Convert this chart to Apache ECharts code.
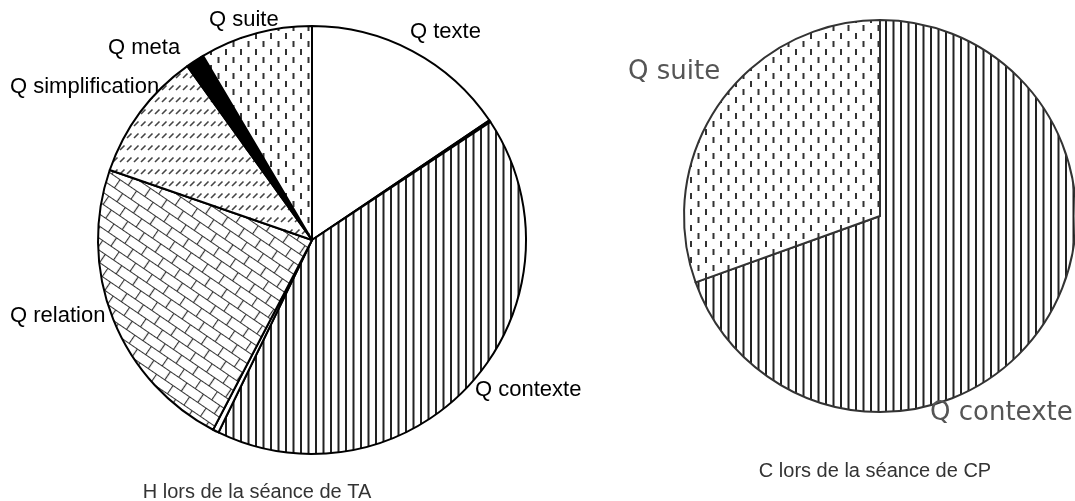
<!DOCTYPE html>
<html>
<head>
<meta charset="utf-8">
<script src="https://cdn.jsdelivr.net/npm/echarts@6/dist/echarts.min.js"></script>
<style>
  html, body { margin: 0; padding: 0; background: #fff; }
  #chart { width: 1075px; height: 501px; }
</style>
</head>
<body>
<div id="chart"></div>
<script>
// Question types during the TA session (unnamed entries are thin separators)
const taCategories = ['Q texte', '', 'Q contexte', '', 'Q relation', 'Q simplification', 'Q meta', '', 'Q suite'];
const taValues = [15.55, 0.15, 41.5, 0.45, 22.65, 9.8, 1.25, 0.15, 8.5];

// Question types during the CP session
const cpCategories = ['Q contexte', 'Q suite'];
const cpValues = [69.5, 30.5];

const captions = ['H lors de la séance de TA', 'C lors de la séance de CP'];

// ---- hatch fills drawn on small canvases ----
function tile(w, h, draw) {
  const c = document.createElement('canvas');
  c.width = w; c.height = h;
  const g = c.getContext('2d');
  g.fillStyle = '#fff';
  g.fillRect(0, 0, w, h);
  draw(g);
  return c;
}
const verticalLines = tile(15, 8, g => {
  g.fillStyle = '#222';
  g.fillRect(0, 0, 2, 8);
  g.fillRect(7.5, 0, 2, 8);
});
const dashes = tile(15, 16, g => {
  g.fillStyle = '#333';
  g.fillRect(0, 1, 2, 6);
  g.fillRect(7.5, 9, 2, 6);
});
const slashes = tile(7, 12, g => {
  g.strokeStyle = '#444';
  g.lineWidth = 1.6;
  g.beginPath();
  g.moveTo(1, 6); g.lineTo(5.5, 1.5);
  g.stroke();
});
const bricks = tile(20, 20, g => {
  g.strokeStyle = '#333';
  g.lineWidth = 1.2;
  g.beginPath();
  g.moveTo(0, 0.5); g.lineTo(20, 0.5);
  g.moveTo(0, 10.5); g.lineTo(20, 10.5);
  g.moveTo(0.5, 0); g.lineTo(0.5, 10.5);
  g.moveTo(10.5, 10.5); g.lineTo(10.5, 20);
  g.stroke();
});
const pat = (img, rotation) => ({ image: img, repeat: 'repeat', rotation: rotation || 0 });

const fills = {
  'Q texte': '#ffffff',
  'Q contexte': pat(verticalLines),
  'Q relation': pat(bricks, 0.6),
  'Q simplification': pat(slashes),
  'Q meta': '#000000',
  'Q suite': pat(dashes),
  '': '#ffffff'
};

// label anchor points (left edge, vertical middle)
const taLabelAt = {
  'Q texte': [410, 32],
  'Q contexte': [475, 390],
  'Q relation': [10, 316],
  'Q simplification': [10, 87],
  'Q meta': [108, 48],
  'Q suite': [209, 20]
};
const cpLabelAt = {
  'Q contexte': [930, 413],
  'Q suite': [628, 72]
};

function pieData(names, values) {
  return names.map((n, i) => ({
    name: n,
    value: values[i],
    itemStyle: { color: fills[n] },
    label: { show: n !== '' }
  }));
}

function pieSeries(names, values, center, radius, labelAt, labelFont, border) {
  return {
    type: 'pie',
    center: center,
    radius: radius,
    startAngle: 90,
    clockwise: true,
    avoidLabelOverlap: false,
    silent: true,
    emphasis: { disabled: true },
    data: pieData(names, values),
    itemStyle: { borderColor: border.color, borderWidth: border.width },
    label: {
      position: 'outside',
      formatter: '{b}',
      fontFamily: labelFont.family,
      fontSize: labelFont.size,
      color: labelFont.color
    },
    labelLine: { show: false },
    labelLayout: p => {
      const pos = labelAt[names[p.dataIndex]];
      return pos ? { x: pos[0], y: pos[1], align: 'left', verticalAlign: 'middle' } : {};
    }
  };
}

const captionStyle = { fontFamily: 'Liberation Sans', fontSize: 20, fontWeight: 'normal', color: '#333' };

const chart = echarts.init(document.getElementById('chart'), null, { renderer: 'canvas' });
chart.setOption({
  animation: false,
  backgroundColor: '#fff',
  title: [
    { text: captions[0], left: 252, top: 477, textAlign: 'center', textStyle: captionStyle },
    { text: captions[1], left: 870, top: 456, textAlign: 'center', textStyle: captionStyle }
  ],
  series: [
    pieSeries(taCategories, taValues, [312, 240], 214, taLabelAt,
      { family: 'Liberation Sans', size: 22, color: '#000' }, { color: '#000', width: 2 }),
    pieSeries(cpCategories, cpValues, [880, 216], 196, cpLabelAt,
      { family: 'DejaVu Sans', size: 26, color: '#555' }, { color: '#333', width: 2 })
  ]
});
</script>
</body>
</html>
